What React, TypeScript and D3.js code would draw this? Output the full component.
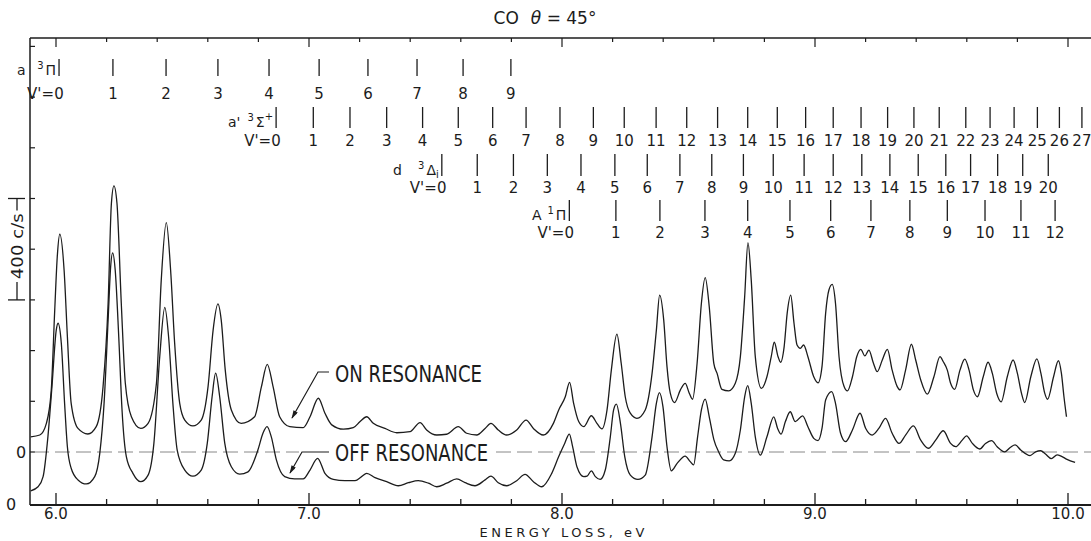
import React, { useEffect, useRef } from 'react';
import * as d3 from 'd3';

const WIDTH = 1091;
const HEIGHT = 541;
const FONT = "'DejaVu Sans', 'Liberation Sans', sans-serif";
const NARROW = "'Liberation Sans Narrow', 'DejaVu Sans Condensed', 'Liberation Sans', sans-serif";

// [energy loss eV, counts/s] - on resonance, zero is the dashed line
const onResonance: [number, number][] = [
  [5.9, 60], [5.936, 67], [5.962, 113], [5.981, 240], [5.995, 560], [6.005, 770], [6.015, 859],
  [6.032, 718], [6.045, 455], [6.06, 192], [6.087, 93], [6.126, 71], [6.159, 100], [6.186, 258],
  [6.206, 587], [6.219, 981], [6.229, 1050], [6.241, 981], [6.258, 588], [6.274, 271], [6.298, 139],
  [6.335, 93], [6.364, 113], [6.397, 271], [6.416, 678], [6.436, 905], [6.453, 718], [6.469, 429],
  [6.489, 192], [6.509, 126], [6.541, 103], [6.574, 126], [6.601, 258], [6.621, 481], [6.64, 584],
  [6.653, 521], [6.669, 323], [6.693, 166], [6.732, 113], [6.785, 139], [6.812, 258], [6.835, 346],
  [6.858, 258], [6.884, 139], [6.924, 100], [6.977, 96], [7.004, 139], [7.037, 212], [7.063, 153],
  [7.09, 107], [7.136, 90], [7.175, 96], [7.202, 120], [7.228, 139], [7.254, 113], [7.3, 93],
  [7.347, 76], [7.399, 80], [7.439, 116], [7.465, 87], [7.505, 67], [7.544, 70], [7.59, 100],
  [7.623, 74], [7.663, 67], [7.696, 93], [7.719, 113], [7.748, 87], [7.781, 67], [7.821, 87],
  [7.858, 126], [7.887, 93], [7.926, 67], [7.966, 113], [7.987, 166], [8.013, 218], [8.03, 275],
  [8.046, 192], [8.066, 120], [8.086, 100], [8.116, 143], [8.138, 113], [8.158, 91], [8.178, 166],
  [8.195, 323], [8.217, 465], [8.234, 350], [8.25, 218], [8.27, 153], [8.296, 133], [8.329, 166],
  [8.356, 310], [8.373, 481], [8.386, 619], [8.402, 521], [8.415, 337], [8.428, 232], [8.445, 195],
  [8.468, 245], [8.487, 271], [8.503, 232], [8.516, 208], [8.534, 350], [8.551, 587], [8.566, 688],
  [8.582, 573], [8.6, 350], [8.613, 310], [8.632, 247], [8.659, 241], [8.685, 271], [8.705, 376],
  [8.722, 613], [8.735, 826], [8.748, 678], [8.764, 376], [8.788, 251], [8.81, 297], [8.827, 376],
  [8.839, 433], [8.854, 376], [8.864, 354], [8.878, 415], [8.89, 547], [8.904, 619], [8.917, 508],
  [8.929, 422], [8.942, 409], [8.955, 422], [8.972, 376], [8.995, 297], [9.012, 273], [9.028, 340],
  [9.042, 547], [9.055, 639], [9.068, 661], [9.081, 587], [9.095, 376], [9.115, 258], [9.128, 241],
  [9.148, 297], [9.165, 376], [9.181, 405], [9.197, 379], [9.213, 402], [9.231, 350], [9.246, 317],
  [9.266, 363], [9.286, 405], [9.305, 323], [9.325, 258], [9.336, 245], [9.358, 323], [9.381, 425],
  [9.398, 363], [9.418, 284], [9.444, 228], [9.47, 297], [9.494, 376], [9.507, 356], [9.523, 323],
  [9.536, 271], [9.552, 247], [9.573, 323], [9.592, 366], [9.609, 323], [9.626, 245], [9.642, 218],
  [9.665, 297], [9.684, 354], [9.701, 310], [9.718, 232], [9.736, 198], [9.76, 297], [9.783, 363],
  [9.8, 310], [9.816, 232], [9.829, 195], [9.853, 297], [9.877, 367], [9.893, 310], [9.908, 232],
  [9.919, 208], [9.943, 297], [9.962, 360], [9.974, 310], [9.984, 218], [9.994, 139],
];

// [energy loss eV, counts/s] - off resonance, zero is the bottom axis
const offResonance: [number, number][] = [
  [5.9, 52], [5.929, 68], [5.949, 108], [5.968, 265], [5.984, 463], [6.001, 686], [6.008, 713],
  [6.021, 634], [6.034, 397], [6.045, 226], [6.06, 141], [6.087, 95], [6.12, 79], [6.153, 108],
  [6.173, 200], [6.19, 397], [6.206, 726], [6.216, 936], [6.224, 991], [6.234, 923], [6.248, 660],
  [6.261, 371], [6.278, 187], [6.304, 121], [6.335, 88], [6.364, 114], [6.387, 240], [6.41, 581],
  [6.43, 776], [6.445, 660], [6.462, 397], [6.479, 213], [6.509, 134], [6.541, 110], [6.574, 134],
  [6.598, 240], [6.617, 423], [6.631, 516], [6.647, 423], [6.667, 240], [6.693, 147], [6.726, 118],
  [6.759, 127], [6.798, 213], [6.818, 279], [6.834, 305], [6.851, 265], [6.871, 174], [6.904, 108],
  [6.943, 99], [6.977, 99], [7.004, 134], [7.034, 180], [7.063, 121], [7.096, 97], [7.142, 92],
  [7.182, 92], [7.208, 108], [7.228, 121], [7.261, 104], [7.307, 88], [7.353, 72], [7.393, 84],
  [7.432, 92], [7.472, 82], [7.505, 68], [7.544, 82], [7.584, 99], [7.617, 84], [7.656, 72],
  [7.696, 95], [7.719, 110], [7.748, 84], [7.781, 72], [7.821, 92], [7.854, 117], [7.887, 88],
  [7.92, 68], [7.959, 120], [7.987, 187], [8.011, 240], [8.029, 276], [8.042, 226], [8.059, 147],
  [8.086, 108], [8.099, 110], [8.116, 131], [8.132, 108], [8.151, 97], [8.171, 134], [8.191, 265],
  [8.204, 371], [8.215, 394], [8.231, 318], [8.248, 187], [8.27, 114], [8.3, 97], [8.329, 114],
  [8.356, 265], [8.373, 397], [8.385, 439], [8.399, 384], [8.415, 226], [8.432, 131], [8.455, 160],
  [8.487, 189], [8.507, 167], [8.52, 154], [8.536, 265], [8.551, 371], [8.566, 414], [8.582, 344],
  [8.6, 255], [8.619, 206], [8.639, 174], [8.661, 170], [8.685, 200], [8.705, 292], [8.722, 423],
  [8.734, 467], [8.748, 397], [8.764, 265], [8.784, 193], [8.81, 265], [8.837, 344], [8.852, 299],
  [8.866, 276], [8.883, 325], [8.902, 364], [8.922, 325], [8.951, 348], [8.972, 305], [8.995, 259],
  [9.012, 250], [9.028, 300], [9.042, 410], [9.066, 443], [9.081, 397], [9.101, 279], [9.121, 246],
  [9.148, 292], [9.178, 358], [9.2, 299], [9.226, 272], [9.253, 299], [9.279, 338], [9.305, 279],
  [9.332, 239], [9.358, 272], [9.389, 308], [9.418, 252], [9.448, 220], [9.477, 252], [9.507, 289],
  [9.536, 239], [9.556, 226], [9.582, 252], [9.599, 269], [9.622, 239], [9.651, 217], [9.674, 239],
  [9.698, 250], [9.72, 226], [9.75, 206], [9.773, 224], [9.791, 233], [9.813, 213], [9.85, 191],
  [9.872, 206], [9.892, 210], [9.911, 197], [9.934, 179], [9.957, 194], [9.973, 189], [9.996, 176],
  [10.028, 164],
];

// vibrational level positions (eV) for each progression
const aPiLevels = [6.012, 6.225, 6.435, 6.64, 6.842, 7.04, 7.233, 7.427, 7.609, 7.798];
const aPrimeSigmaLevels = [
  6.87, 7.017, 7.162, 7.307, 7.449, 7.59, 7.726, 7.858, 7.992, 8.124, 8.246, 8.372, 8.493, 8.615,
  8.734, 8.851, 8.963, 9.072, 9.182, 9.287, 9.391, 9.491, 9.596, 9.692, 9.787, 9.879, 9.966, 10.055,
];
const dDeltaLevels = [
  7.525, 7.665, 7.808, 7.942, 8.075, 8.209, 8.337, 8.466, 8.592, 8.717, 8.835, 8.957, 9.072,
  9.185, 9.296, 9.408, 9.517, 9.615, 9.722, 9.821, 9.922,
];
const APiLevels = [8.029, 8.213, 8.387, 8.565, 8.734, 8.901, 9.062, 9.221, 9.375, 9.523, 9.672, 9.814, 9.949];

const xTickLabels = ['6.0', '7.0', '8.0', '9.0', '10.0'];
const countTicks = [0, 200, 400, 600, 800, 1000, 1200, 1400, 1600];

// layout of the four progression rows (bar top, bar bottom, label baseline, state name parts)
const rows = [
  { levels: aPiLevels, top: 59, bottom: 76, base: 99, pre: 'a', preX: 17, sup: '3', main: 'Π', tail: '', tailSub: false },
  { levels: aPrimeSigmaLevels, top: 107, bottom: 128, base: 146, pre: "a'", preX: 228, sup: '3', main: 'Σ', tail: '+', tailSub: false },
  { levels: dDeltaLevels, top: 154, bottom: 176, base: 193, pre: 'd', preX: 393, sup: '3', main: 'Δ', tail: 'i', tailSub: true },
  { levels: APiLevels, top: 200, bottom: 221, base: 238, pre: 'A', preX: 532, sup: '1', main: 'Π', tail: '', tailSub: false },
];

export default function App() {
  const ref = useRef<SVGSVGElement>(null);

  useEffect(() => {
    const svg = d3.select(ref.current);
    svg.selectAll('*').remove();

    const x = d3.scaleLinear().domain([6, 10]).range([56, 1068]);
    const yOn = d3.scaleLinear().domain([0, 1600]).range([452, 46.4]);
    const yOff = d3.scaleLinear().domain([0, 1600]).range([504, 98.4]);
    const left = 30;
    const right = WIDTH;
    const top = 38;
    const axisY = 505;
    const ink = '#1c1c1c';

    svg.append('rect').attr('width', WIDTH).attr('height', HEIGHT).attr('fill', '#fff');

    const defs = svg.append('defs');
    defs.append('marker')
      .attr('id', 'arrow')
      .attr('viewBox', '0 0 10 6')
      .attr('refX', 9)
      .attr('refY', 3)
      .attr('markerWidth', 9)
      .attr('markerHeight', 5)
      .attr('markerUnits', 'userSpaceOnUse')
      .attr('orient', 'auto')
      .append('path')
      .attr('d', 'M0,0 L10,3 L0,6 z')
      .attr('fill', ink);

    // frame
    svg.append('line').attr('x1', left).attr('x2', right).attr('y1', top).attr('y2', top)
      .attr('stroke', ink).attr('stroke-width', 1.5);
    svg.append('line').attr('x1', left).attr('x2', left).attr('y1', top).attr('y2', axisY)
      .attr('stroke', ink).attr('stroke-width', 1.5);
    svg.append('line').attr('x1', left).attr('x2', right).attr('y1', axisY).attr('y2', axisY)
      .attr('stroke', ink).attr('stroke-width', 2.2);

    const xTicks = d3.range(0, 21).map(i => 6 + i * 0.2);
    const isMajor = (v: number) => Math.abs(v - Math.round(v)) < 1e-6;

    svg.append('g').selectAll('line').data(xTicks).enter().append('line')
      .attr('x1', d => x(d)).attr('x2', d => x(d))
      .attr('y1', axisY).attr('y2', d => axisY - (isMajor(d) ? 12 : 6))
      .attr('stroke', ink).attr('stroke-width', 1.3);
    svg.append('g').selectAll('line').data(xTicks).enter().append('line')
      .attr('x1', d => x(d)).attr('x2', d => x(d))
      .attr('y1', top).attr('y2', d => top + (isMajor(d) ? 9 : 4))
      .attr('stroke', ink).attr('stroke-width', 1.2);

    svg.append('g').selectAll('text').data(xTickLabels).enter().append('text')
      .attr('x', d => x(+d)).attr('y', 519)
      .attr('text-anchor', 'middle')
      .attr('font-family', FONT).attr('font-size', 15)
      .attr('fill', ink)
      .text(d => d);

    svg.append('text')
      .attr('x', 562).attr('y', 537)
      .attr('text-anchor', 'middle')
      .attr('font-family', FONT).attr('font-size', 13)
      .attr('textLength', 165).attr('lengthAdjust', 'spacing')
      .attr('fill', ink)
      .text('ENERGY LOSS,  eV');

    // left ticks (counts, on resonance scale)
    svg.append('g').selectAll('line').data(countTicks).enter().append('line')
      .attr('x1', left).attr('x2', left + 5)
      .attr('y1', d => yOn(d)).attr('y2', d => yOn(d))
      .attr('stroke', ink).attr('stroke-width', 1.2);

    // 400 c/s scale bar
    const barX = 17;
    const s0 = yOn(1000);
    const s1 = yOn(600);
    const scale = svg.append('g').attr('stroke', ink).attr('stroke-width', 1.3);
    scale.append('line').attr('x1', 8).attr('x2', 25).attr('y1', s0).attr('y2', s0);
    scale.append('line').attr('x1', 8).attr('x2', 25).attr('y1', s1).attr('y2', s1);
    scale.append('line').attr('x1', barX).attr('x2', barX).attr('y1', s0).attr('y2', s0 + 12);
    scale.append('line').attr('x1', barX).attr('x2', barX).attr('y1', s1 - 18).attr('y2', s1);
    svg.append('text')
      .attr('transform', `translate(${barX + 6},${(s0 + s1) / 2 - 3}) rotate(-90)`)
      .attr('text-anchor', 'middle')
      .attr('font-family', FONT).attr('font-size', 16)
      .attr('textLength', 66).attr('lengthAdjust', 'spacingAndGlyphs')
      .attr('fill', ink)
      .text('400 c/s');

    // zero labels
    svg.append('text').attr('x', 21).attr('y', yOn(0) + 6).attr('text-anchor', 'middle')
      .attr('font-family', FONT).attr('font-size', 16).attr('fill', ink).text('0');
    svg.append('text').attr('x', 11).attr('y', yOff(0) + 6).attr('text-anchor', 'middle')
      .attr('font-family', FONT).attr('font-size', 16).attr('fill', ink).text('0');

    // dashed zero line for the on resonance trace, broken by the label
    const dash = svg.append('g').attr('stroke', '#888').attr('stroke-width', 1).attr('stroke-dasharray', '15 6');
    dash.append('line').attr('x1', 34).attr('x2', 299).attr('y1', yOn(0)).attr('y2', yOn(0));
    dash.append('line').attr('x1', 496).attr('x2', right).attr('y1', yOn(0)).attr('y2', yOn(0));

    // spectra
    const lineOn = d3.line<[number, number]>()
      .x(d => x(d[0])).y(d => yOn(d[1]))
      .curve(d3.curveMonotoneX);
    const lineOff = d3.line<[number, number]>()
      .x(d => x(d[0])).y(d => yOff(d[1]))
      .curve(d3.curveMonotoneX);

    svg.append('path').datum(onResonance)
      .attr('d', lineOn).attr('fill', 'none')
      .attr('stroke', ink).attr('stroke-width', 1.3).attr('stroke-linejoin', 'round');
    svg.append('path').datum(offResonance)
      .attr('d', lineOff).attr('fill', 'none')
      .attr('stroke', ink).attr('stroke-width', 1.3).attr('stroke-linejoin', 'round');

    // trace labels with leaders
    const leaders = svg.append('g').attr('fill', 'none').attr('stroke', ink).attr('stroke-width', 1.2);
    leaders.append('path').attr('d', 'M329,372 H318 L292,418').attr('marker-end', 'url(#arrow)');
    leaders.append('path').attr('d', 'M329,452 H302 L290,473').attr('marker-end', 'url(#arrow)');

    svg.append('text').attr('x', 335).attr('y', 382)
      .attr('font-family', NARROW).attr('font-size', 23)
      .attr('textLength', 147).attr('lengthAdjust', 'spacingAndGlyphs')
      .attr('fill', ink).text('ON RESONANCE');
    svg.append('text').attr('x', 335).attr('y', 461)
      .attr('font-family', NARROW).attr('font-size', 23)
      .attr('textLength', 153).attr('lengthAdjust', 'spacingAndGlyphs')
      .attr('fill', ink).text('OFF RESONANCE');

    // progression markers
    rows.forEach(row => {
      const g = svg.append('g');
      g.selectAll('line').data(row.levels).enter().append('line')
        .attr('x1', d => x(d)).attr('x2', d => x(d))
        .attr('y1', row.top).attr('y2', row.bottom)
        .attr('stroke', ink).attr('stroke-width', 1.3);
      g.selectAll('text.v').data(row.levels).enter().append('text')
        .attr('class', 'v')
        .attr('x', d => x(d)).attr('y', row.base)
        .attr('text-anchor', 'middle')
        .attr('font-family', FONT).attr('font-size', 15)
        .attr('fill', ink)
        .text((d, i) => String(i));
      const x0 = x(row.levels[0]);
      g.append('text').attr('x', x0 - 5).attr('y', row.base)
        .attr('text-anchor', 'end')
        .attr('font-family', FONT).attr('font-size', 15).attr('fill', ink)
        .text("V'=");

      const nameY = row.bottom - 1;
      g.append('text').attr('x', row.preX).attr('y', nameY)
        .attr('font-family', FONT).attr('font-size', 14).attr('fill', ink)
        .text(row.pre);
      const name = g.append('text').attr('x', x0 - 3).attr('y', nameY)
        .attr('text-anchor', 'end')
        .attr('font-family', FONT).attr('font-size', 14).attr('fill', ink);
      name.append('tspan').attr('font-size', 10).attr('dy', -6).text(row.sup);
      name.append('tspan').attr('dx', 2).attr('dy', 6).text(row.main);
      if (row.tail) {
        name.append('tspan').attr('font-size', 10)
          .attr('dy', row.tailSub ? 3 : -7)
          .text(row.tail);
      }
    });

    // title
    const title = svg.append('text').attr('x', 545).attr('y', 24)
      .attr('text-anchor', 'middle')
      .attr('font-family', FONT).attr('font-size', 17).attr('fill', ink);
    title.append('tspan').text('CO');
    title.append('tspan').attr('dx', 12).attr('font-style', 'italic').text('θ');
    title.append('tspan').text(' = 45°');
  }, []);

  return (
    <svg
      ref={ref}
      width={WIDTH}
      height={HEIGHT}
      style={{ position: 'absolute', left: 0, top: 0, display: 'block' }}
    />
  );
}
